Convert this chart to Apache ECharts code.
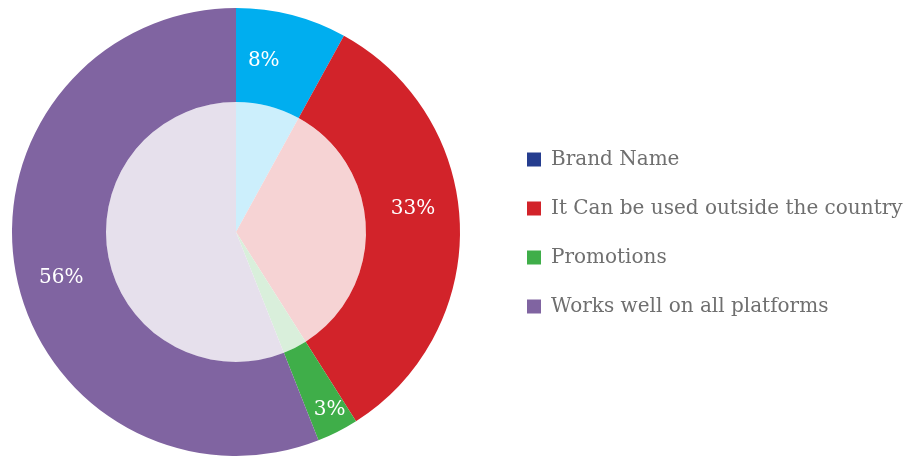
<!DOCTYPE html>
<html>
<head>
<meta charset="utf-8">
<script src="https://cdn.jsdelivr.net/npm/echarts@6/dist/echarts.min.js"></script>
<style>
  html, body { margin: 0; padding: 0; background: #ffffff; }
  #chart { width: 915px; height: 456px; }
</style>
</head>
<body>
<div id="chart"></div>
<script>
// Survey answers and their shares (percent)
const categories = [
  'Brand Name',
  'It Can be used outside the country',
  'Promotions',
  'Works well on all platforms'
];
const shares = [8, 33, 3, 56];

// Ring colours, the paler fill of the centre disc, and legend swatches
const ringColors = ['#00aeef', '#d2232a', '#3fae49', '#8064a1'];
const discColors = ['#ccefFC', '#f6d3d4', '#d9efdb', '#e6e0ec'];
const legendColors = ['#253d8f', '#d2232a', '#3fae49', '#8064a1'];

// Nudge of each percentage label from the ring's middle
const labelShift = [[-17, 3], [-3, -18], [12, 17], [2, 12]];

const FONT = '"DejaVu Serif", "Liberation Serif", serif';
const center = [236, 232];

const chart = echarts.init(document.getElementById('chart'), null, { renderer: 'canvas' });

chart.setOption({
  animation: false,
  backgroundColor: '#ffffff',
  legend: {
    orient: 'vertical',
    left: 522,
    top: 144,
    itemWidth: 14,
    itemHeight: 14,
    itemGap: 28,
    icon: 'rect',
    selectedMode: false,
    textStyle: { fontFamily: FONT, fontSize: 20, lineHeight: 21, color: '#6f6f6f', padding: [0, 0, 0, 5] },
    data: categories.map((name, i) => ({ name, itemStyle: { color: legendColors[i] } }))
  },
  series: [
    {
      name: 'disc',
      type: 'pie',
      center: center,
      radius: [0, 130],
      startAngle: 90,
      clockwise: true,
      silent: true,
      label: { show: false },
      labelLine: { show: false },
      itemStyle: { borderWidth: 0 },
      data: categories.map((name, i) => ({
        name, value: shares[i], itemStyle: { color: discColors[i] }
      }))
    },
    {
      name: 'ring',
      type: 'pie',
      center: center,
      radius: [130, 224],
      startAngle: 90,
      clockwise: true,
      silent: true,
      itemStyle: { borderWidth: 0 },
      label: {
        show: true,
        position: 'inside',
        formatter: '{c}%',
        color: '#ffffff',
        fontFamily: FONT,
        fontSize: 20
      },
      labelLine: { show: false },
      labelLayout: (p) => ({ dx: labelShift[p.dataIndex][0], dy: labelShift[p.dataIndex][1] }),
      data: categories.map((name, i) => ({
        name, value: shares[i], itemStyle: { color: ringColors[i] }
      }))
    }
  ]
});
</script>
</body>
</html>
